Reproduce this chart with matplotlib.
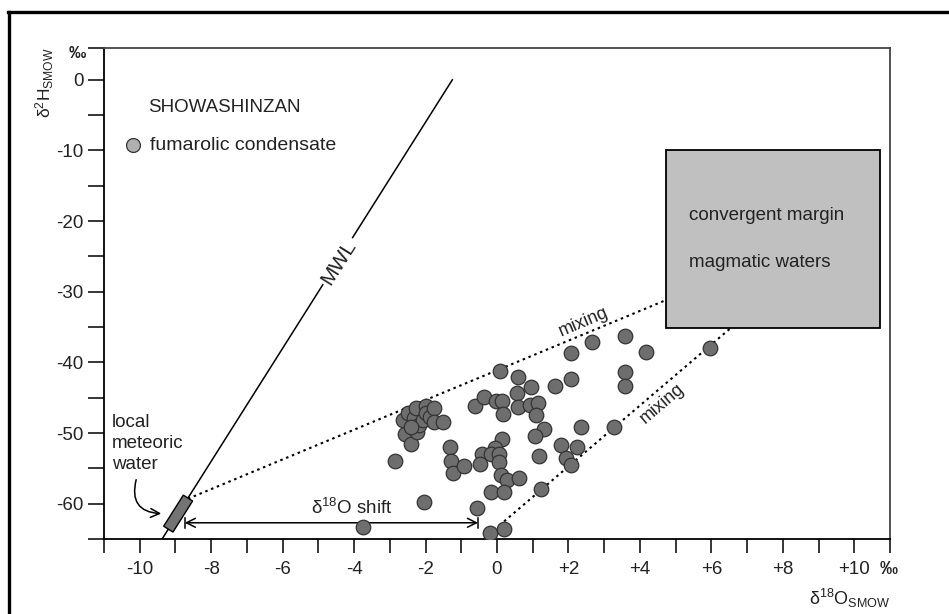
import numpy as np
import matplotlib
matplotlib.use("Agg")
import matplotlib.pyplot as plt
from matplotlib.lines import Line2D
from matplotlib.patches import Polygon, Rectangle

plt.rcParams['font.family'] = ['Liberation Sans', 'DejaVu Sans']
plt.rcParams['mathtext.fontset'] = 'custom'
plt.rcParams['mathtext.rm'] = 'Liberation Sans'
plt.rcParams['mathtext.it'] = 'Liberation Sans:italic'

# fumarolic condensate samples (d18O, d2H, permil SMOW)
d18o = [0.08, 0.59, 0.96, 1.63, 2.06, 2.07, 2.66, 3.57, 3.57, 3.57,
        4.17, 5.97, 0.56, -0.62, -0.35, -0.04, 0.14, 0.17, 0.60, 0.91,
        1.15, 1.10, 1.31, 1.05, 1.17, 1.79, 2.25, 2.36, 1.94, 2.08,
        3.27, 1.24, 0.14, -0.06, -0.42, -0.16, 0.06, -0.47, 0.06, 0.11,
        0.29, 0.63, -0.18, 0.20, -0.55, -0.20, 0.19, -1.32, -1.30, -1.23,
        -0.92, -2.86, -2.03, -3.74, -2.63, -2.57, -2.49, -2.40, -2.32, -2.26,
        -2.23, -2.18, -2.07, -1.98, -1.98, -1.87, -1.76, -1.76, -1.51, -2.40]
d2h = [-41.2, -42.0, -43.5, -43.3, -42.3, -38.6, -37.1, -36.3, -41.4, -43.3,
       -38.5, -38.0, -44.4, -46.1, -44.9, -45.5, -45.5, -47.3, -46.3, -46.0,
       -45.7, -47.4, -49.4, -50.4, -53.3, -51.7, -52.0, -49.1, -53.5, -54.5,
       -49.2, -57.9, -50.9, -52.1, -52.9, -52.9, -53.0, -54.4, -54.1, -55.9,
       -56.7, -56.3, -58.3, -58.3, -60.6, -64.1, -63.6, -52.0, -53.9, -55.7,
       -54.6, -53.9, -59.7, -63.3, -48.2, -50.2, -47.2, -51.5, -47.8, -46.4,
       -49.9, -48.8, -48.2, -46.2, -47.1, -47.7, -46.5, -48.4, -48.4, -49.1]

# meteoric water line dD = 8 d18O + 10
mwl_x = [-9.375, -1.25]
local_mw = [-9.2, -8.65]           # d18O range of local meteoric water
magmatic_x = [4.72, 10.72]         # convergent margin magmatic waters
magmatic_y = [-35.1, -9.9]
mix_upper = ([-8.65, 4.72], [-59.3, -31.2])
mix_lower = ([0.2, 6.55], [-62.5, -35.1])
shift_x = [-8.74, -0.53]
shift_y = -62.7

xticks = [-10, -8, -6, -4, -2, 0, 2, 4, 6, 8, 10]
xticklabels = ['-10', '-8', '-6', '-4', '-2', '0', '+2', '+4', '+6', '+8', '+10']
yticks = [-60, -50, -40, -30, -20, -10, 0]
yticklabels = ['-60', '-50', '-40', '-30', '-20', '-10', '0']

txt = '#222222'
fig = plt.figure(figsize=(9.49, 6.14), dpi=100)
ax = fig.add_axes([0.1096, 0.1221, 0.8282, 0.7997])
ax.set_xlim(-11, 11)
ax.set_ylim(-65, 4.5)

for s in ['left', 'bottom']:
    ax.spines[s].set_linewidth(1.3)
for s in ['top', 'right']:
    ax.spines[s].set_linewidth(1.3)
    ax.spines[s].set_color('#444444')

ax.set_xticks(xticks)
ax.set_xticklabels(xticklabels)
ax.set_xticks(np.arange(-11, 12, 2), minor=True)
ax.set_yticks(yticks)
ax.set_yticklabels(yticklabels)
ax.set_yticks(list(np.arange(-65, 0, 10)) + [4.5], minor=True)
ax.tick_params(axis='x', which='both', direction='out', length=10, width=1.1,
               labelsize=13.5, pad=6, labelcolor=txt)
ax.tick_params(axis='y', which='both', direction='out', length=11.5, width=1.1,
               labelsize=13.5, pad=3, labelcolor=txt)

# MWL with label gap
ax.plot(mwl_x, [8 * x + 10 for x in mwl_x], color='black', lw=1.1, zorder=2)
ax.text(-4.42, -25.8, 'MWL', rotation=57.7, ha='center', va='center',
        fontsize=15, color=txt, zorder=3,
        bbox=dict(facecolor='white', edgecolor='none', pad=2))

# local meteoric water box along MWL
p1 = ax.transData.transform((local_mw[0], 8 * local_mw[0] + 10))
p2 = ax.transData.transform((local_mw[1], 8 * local_mw[1] + 10))
d = (p2 - p1) / np.hypot(*(p2 - p1))
n = np.array([-d[1], d[0]]) * 5.5
corners = ax.transData.inverted().transform([p1 + n, p2 + n, p2 - n, p1 - n])
ax.add_patch(Polygon(corners, closed=True, facecolor='#737373',
                     edgecolor='black', lw=1, zorder=4))

# mixing lines
dots = (0, (1.2, 1.8))
ax.plot(*mix_upper, color='black', lw=1.5, ls=dots, zorder=2)
ax.plot(*mix_lower, color='black', lw=1.5, ls=dots, zorder=2)
ax.text(2.43, -34.3, 'mixing', rotation=22.9, ha='center', va='center',
        fontsize=13, color=txt)
ax.text(4.62, -45.8, 'mixing', rotation=40.4, ha='center', va='center',
        fontsize=13, color=txt)

# magmatic waters field
ax.add_patch(Rectangle((magmatic_x[0], magmatic_y[0]),
                       magmatic_x[1] - magmatic_x[0],
                       magmatic_y[1] - magmatic_y[0],
                       facecolor='#c0c0c0', edgecolor='black', lw=1.3, zorder=5))
ax.text(5.37, -19.2, 'convergent margin', fontsize=13.5, color=txt,
        va='center', zorder=6)
ax.text(5.37, -25.8, 'magmatic waters', fontsize=13.5, color=txt,
        va='center', zorder=6)

# d18O shift arrow
ax.annotate('', xy=(shift_x[1], shift_y), xytext=(shift_x[0], shift_y),
            arrowprops=dict(arrowstyle='<->', lw=1.1, color='black',
                            mutation_scale=16, shrinkA=0, shrinkB=0))
for x in shift_x:
    ax.plot([x, x], [shift_y - 0.7, shift_y + 0.7], color='black', lw=1.1)
ax.text(-4.06, -60.6, 'δ$^{18}$O shift', fontsize=13.5, color=txt,
        ha='center', va='center')

# local meteoric water note
ax.text(-10.77, -51.5, 'local\nmeteoric\nwater', fontsize=13.5, color=txt,
        ha='left', va='center', linespacing=1.3)
ax.annotate('', xy=(-9.4, -61.4), xytext=(-10.1, -56.6),
            arrowprops=dict(arrowstyle='->', lw=1.1, color='black',
                            mutation_scale=16, shrinkA=0, shrinkB=0,
                            connectionstyle='arc3,rad=0.6'))

# samples
ax.scatter(d18o, d2h, s=110, facecolor='#6e6e6e', edgecolor='#333333',
           linewidth=0.9, zorder=7)

# legend
ax.text(-9.76, -3.9, 'SHOWASHINZAN', fontsize=13.5, color=txt, va='center')
ax.scatter([-10.18], [-9.28], s=100, facecolor='#b0b0b0', edgecolor='#333333',
           linewidth=0.9, zorder=7)
ax.text(-9.71, -9.28, 'fumarolic condensate', fontsize=14, color=txt,
        va='center')

# axis titles
fig.text(45 / 949, 1 - 83 / 614, 'δ$^{2}$H$_{\\mathrm{SMOW}}$', rotation=90,
         fontsize=12.5, color=txt, ha='center', va='center')
fig.text(77 / 949, 1 - 54 / 614, '‰', fontsize=12.5, color=txt,
         ha='center', va='center', fontweight='bold')
fig.text(890 / 949, 1 - 598 / 614, 'δ$^{18}$O$_{\\mathrm{SMOW}}$',
         fontsize=13, color=txt, ha='right', va='center')
fig.text(880 / 949, 1 - 569 / 614, '‰', fontsize=13, color=txt,
         ha='left', va='center', fontweight='bold')

# outer frame
fig.add_artist(Line2D([0.0084, 1.0], [0.980, 0.980], color='black', lw=2.4,
                      transform=fig.transFigure))
fig.add_artist(Line2D([0.0095, 0.0095], [0.0, 0.980], color='black', lw=2.4,
                      transform=fig.transFigure))

fig.savefig('out.png', dpi=100)
